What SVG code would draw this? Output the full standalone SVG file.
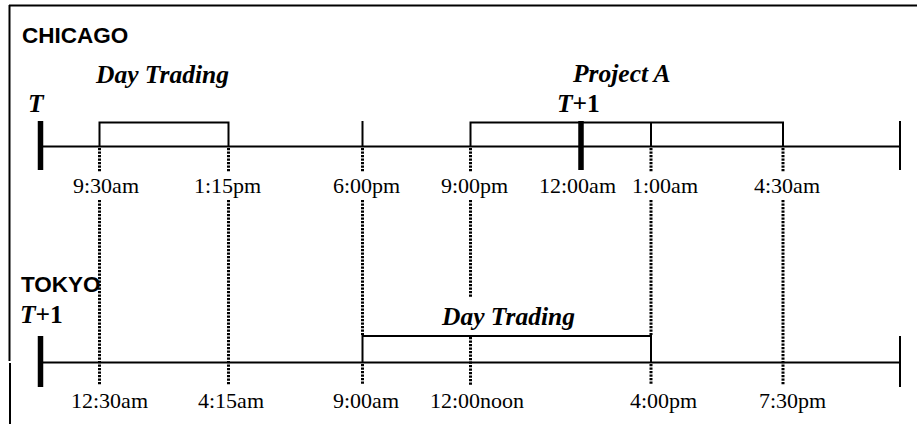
<svg xmlns="http://www.w3.org/2000/svg" width="917" height="425" viewBox="0 0 917 425">
<style>
.ln{stroke:#000;stroke-width:2;fill:none}
.bar{stroke:#000;stroke-width:5.5;fill:none}
.dot{stroke:#000;stroke-width:3;stroke-dasharray:2.2 1.3;fill:none}
.city{font-family:"Liberation Sans",Arial,sans-serif;font-weight:bold;font-size:22.5px}
.lab{font-family:"Liberation Serif","Times New Roman",serif;font-size:22px}
.bi{font-family:"Liberation Serif","Times New Roman",serif;font-weight:bold;font-style:italic;font-size:25.5px}
</style>
<rect width="917" height="425" fill="#fff"/>
<g id="frame">
<line class="ln" x1="9" y1="5.5" x2="917" y2="5.5"/>
<line class="ln" x1="9.5" y1="5" x2="9.5" y2="361"/>
<line class="ln" x1="10" y1="363" x2="10" y2="424"/>
</g>
<g id="chicago">
<text class="city" x="22" y="43">CHICAGO</text>
<text class="bi" x="96" y="83">Day Trading</text>
<text class="bi" x="573" y="82">Project A</text>
<text class="bi" x="28" y="112">T</text>
<text class="bi" x="557" y="112">T<tspan font-style="normal">+1</tspan></text>
<line class="ln" x1="40" y1="146.5" x2="900" y2="146.5"/>
<line class="bar" x1="40.5" y1="121" x2="40.5" y2="170"/>
<line class="ln" x1="900" y1="121" x2="900" y2="170"/>
<polyline class="ln" points="99.5,146.5 99.5,122.5 228.5,122.5 228.5,146.5"/>
<line class="ln" x1="362.5" y1="121" x2="362.5" y2="146.5"/>
<polyline class="ln" points="470.5,146.5 470.5,122.5 783,122.5 783,146.5"/>
<line class="ln" x1="651" y1="122.5" x2="651" y2="146.5"/>
<line class="bar" x1="581" y1="121" x2="581" y2="170"/>
<text class="lab" x="73" y="193">9:30am</text>
<text class="lab" x="194" y="193">1:15pm</text>
<text class="lab" x="333" y="193">6:00pm</text>
<text class="lab" x="441" y="193">9:00pm</text>
<text class="lab" x="539" y="193">12:00am</text>
<text class="lab" x="632" y="193">1:00am</text>
<text class="lab" x="754" y="193">4:30am</text>
</g>
<g id="tokyo">
<text class="city" x="21" y="292">TOKYO</text>
<text class="bi" x="20" y="323">T<tspan font-style="normal">+1</tspan></text>
<text class="bi" x="442" y="325">Day Trading</text>
<line class="ln" x1="40" y1="362.5" x2="900" y2="362.5"/>
<line class="bar" x1="40.5" y1="336" x2="40.5" y2="387"/>
<line class="ln" x1="900" y1="336" x2="900" y2="387"/>
<polyline class="ln" points="362.5,362.5 362.5,336 651,336 651,362.5"/>
<text class="lab" x="71" y="408">12:30am</text>
<text class="lab" x="198" y="408">4:15am</text>
<text class="lab" x="333" y="408">9:00am</text>
<text class="lab" x="430" y="408">12:00noon</text>
<text class="lab" x="630" y="408">4:00pm</text>
<text class="lab" x="759" y="408">7:30pm</text>
</g>
<g id="connectors">
<line class="dot" x1="99.5" y1="148" x2="99.5" y2="172"/>
<line class="dot" x1="99.5" y1="200" x2="99.5" y2="385"/>
<line class="dot" x1="228.5" y1="148" x2="228.5" y2="172"/>
<line class="dot" x1="228.5" y1="200" x2="228.5" y2="385"/>
<line class="dot" x1="362.5" y1="148" x2="362.5" y2="172"/>
<line class="dot" x1="362.5" y1="200" x2="362.5" y2="335"/>
<line class="dot" x1="362.5" y1="364" x2="362.5" y2="385"/>
<line class="dot" x1="470.5" y1="148" x2="470.5" y2="172"/>
<line class="dot" x1="470.5" y1="200" x2="470.5" y2="297"/>
<line class="dot" x1="470.5" y1="337" x2="470.5" y2="385"/>
<line class="dot" x1="651" y1="148" x2="651" y2="172"/>
<line class="dot" x1="651" y1="200" x2="651" y2="335"/>
<line class="dot" x1="651" y1="364" x2="651" y2="385"/>
<line class="dot" x1="783" y1="148" x2="783" y2="172"/>
<line class="dot" x1="783" y1="200" x2="783" y2="385"/>
</g>
</svg>
